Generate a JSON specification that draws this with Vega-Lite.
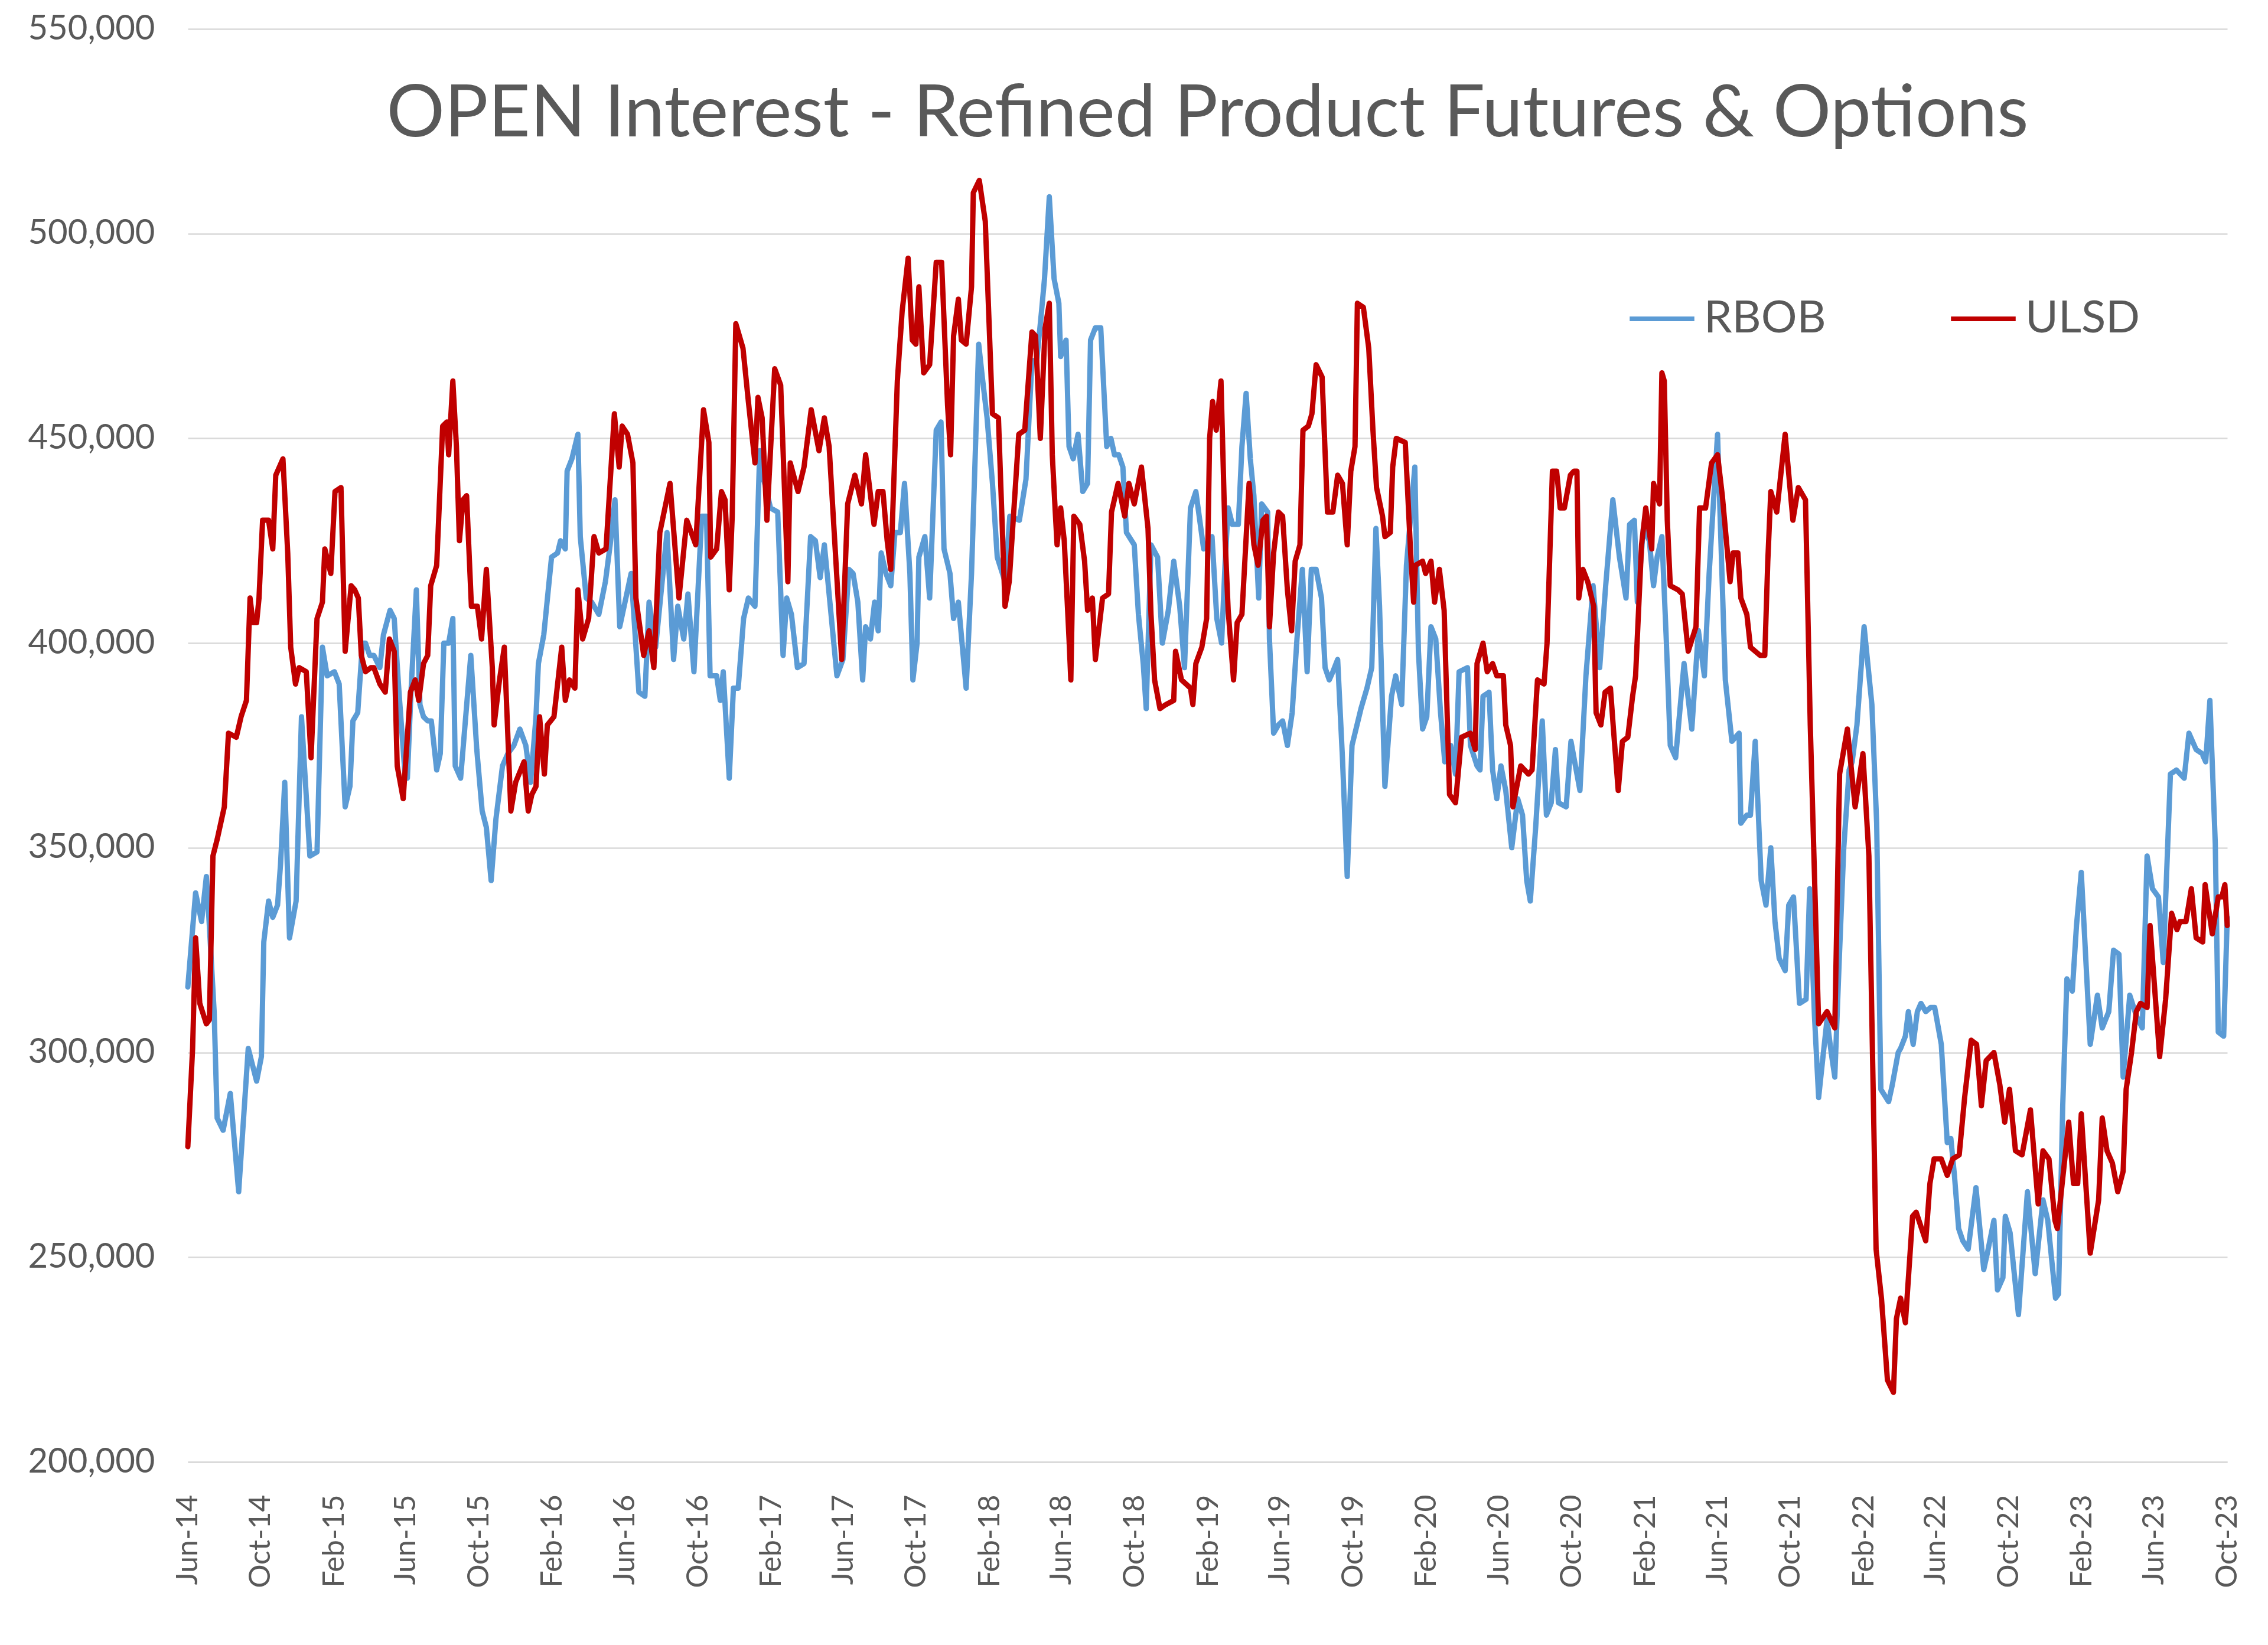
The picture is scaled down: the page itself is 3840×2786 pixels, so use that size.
{
  "$schema": "https://vega.github.io/schema/vega-lite/v6.json",
  "autosize": "none",
  "padding": {"left": 318, "top": 49, "right": 69, "bottom": 310},
  "width": 3453,
  "height": 2427,
  "background": "white",
  "config": {"view": {"stroke": null}, "font": "Lato"},
  "title": {"text": "OPEN Interest - Refined Product Futures & Options", "font": "Lato", "fontSize": 123, "fontWeight": "normal", "color": "#595959", "anchor": "middle", "frame": "group", "baseline": "alphabetic", "offset": -334},
  "datasets": {
    "rbob": [
{"d":"2014-06-01","v":316000},{"d":"2014-06-14","v":339000},{"d":"2014-06-24","v":332000},{"d":"2014-07-02","v":343000},{"d":"2014-07-07","v":331000},{"d":"2014-07-15","v":310000},{"d":"2014-07-20","v":284000},{"d":"2014-07-30","v":281000},{"d":"2014-08-11","v":290000},{"d":"2014-08-25","v":266000},{"d":"2014-09-10","v":301000},{"d":"2014-09-24","v":293000},{"d":"2014-10-02","v":299000},{"d":"2014-10-06","v":327000},{"d":"2014-10-14","v":337000},{"d":"2014-10-21","v":333000},{"d":"2014-10-29","v":336000},{"d":"2014-11-03","v":346000},{"d":"2014-11-10","v":366000},{"d":"2014-11-18","v":328000},{"d":"2014-11-29","v":337000},{"d":"2014-12-08","v":382000},{"d":"2014-12-22","v":348000},{"d":"2015-01-03","v":349000},{"d":"2015-01-12","v":399000},{"d":"2015-01-20","v":392000},{"d":"2015-02-01","v":393000},{"d":"2015-02-09","v":390000},{"d":"2015-02-19","v":360000},{"d":"2015-02-27","v":365000},{"d":"2015-03-04","v":381000},{"d":"2015-03-12","v":383000},{"d":"2015-03-20","v":400000},{"d":"2015-03-25","v":400000},{"d":"2015-04-01","v":397000},{"d":"2015-04-08","v":397000},{"d":"2015-04-18","v":394000},{"d":"2015-04-24","v":402000},{"d":"2015-05-05","v":408000},{"d":"2015-05-12","v":406000},{"d":"2015-05-20","v":388000},{"d":"2015-05-30","v":368000},{"d":"2015-06-03","v":367000},{"d":"2015-06-09","v":388000},{"d":"2015-06-18","v":413000},{"d":"2015-06-24","v":385000},{"d":"2015-06-30","v":382000},{"d":"2015-07-07","v":381000},{"d":"2015-07-13","v":381000},{"d":"2015-07-22","v":369000},{"d":"2015-07-28","v":373000},{"d":"2015-08-03","v":400000},{"d":"2015-08-11","v":400000},{"d":"2015-08-18","v":406000},{"d":"2015-08-22","v":370000},{"d":"2015-08-31","v":367000},{"d":"2015-09-17","v":397000},{"d":"2015-09-27","v":374000},{"d":"2015-10-06","v":359000},{"d":"2015-10-13","v":355000},{"d":"2015-10-21","v":342000},{"d":"2015-10-29","v":357000},{"d":"2015-11-09","v":370000},{"d":"2015-11-18","v":373000},{"d":"2015-11-28","v":375000},{"d":"2015-12-08","v":379000},{"d":"2015-12-18","v":375000},{"d":"2015-12-26","v":366000},{"d":"2016-01-04","v":382000},{"d":"2016-01-08","v":395000},{"d":"2016-01-17","v":402000},{"d":"2016-01-30","v":421000},{"d":"2016-02-09","v":422000},{"d":"2016-02-14","v":425000},{"d":"2016-02-22","v":423000},{"d":"2016-02-25","v":442000},{"d":"2016-03-04","v":445000},{"d":"2016-03-14","v":451000},{"d":"2016-03-18","v":426000},{"d":"2016-03-28","v":411000},{"d":"2016-04-06","v":410000},{"d":"2016-04-18","v":407000},{"d":"2016-04-29","v":415000},{"d":"2016-05-07","v":424000},{"d":"2016-05-15","v":435000},{"d":"2016-05-23","v":404000},{"d":"2016-06-11","v":417000},{"d":"2016-06-24","v":388000},{"d":"2016-07-04","v":387000},{"d":"2016-07-11","v":410000},{"d":"2016-07-22","v":399000},{"d":"2016-08-10","v":427000},{"d":"2016-08-21","v":396000},{"d":"2016-08-28","v":409000},{"d":"2016-09-07","v":401000},{"d":"2016-09-14","v":412000},{"d":"2016-09-24","v":393000},{"d":"2016-10-07","v":431000},{"d":"2016-10-15","v":431000},{"d":"2016-10-21","v":392000},{"d":"2016-11-01","v":392000},{"d":"2016-11-07","v":386000},{"d":"2016-11-12","v":393000},{"d":"2016-11-22","v":367000},{"d":"2016-11-29","v":389000},{"d":"2016-12-07","v":389000},{"d":"2016-12-16","v":406000},{"d":"2016-12-24","v":411000},{"d":"2017-01-04","v":409000},{"d":"2017-01-12","v":447000},{"d":"2017-01-17","v":441000},{"d":"2017-01-30","v":433000},{"d":"2017-02-11","v":432000},{"d":"2017-02-20","v":397000},{"d":"2017-02-26","v":411000},{"d":"2017-03-06","v":407000},{"d":"2017-03-16","v":394000},{"d":"2017-03-27","v":395000},{"d":"2017-04-07","v":426000},{"d":"2017-04-15","v":425000},{"d":"2017-04-23","v":416000},{"d":"2017-04-30","v":424000},{"d":"2017-05-06","v":415000},{"d":"2017-05-21","v":392000},{"d":"2017-05-31","v":396000},{"d":"2017-06-10","v":418000},{"d":"2017-06-17","v":417000},{"d":"2017-06-25","v":410000},{"d":"2017-07-03","v":391000},{"d":"2017-07-08","v":404000},{"d":"2017-07-16","v":401000},{"d":"2017-07-23","v":410000},{"d":"2017-07-29","v":403000},{"d":"2017-08-03","v":422000},{"d":"2017-08-11","v":417000},{"d":"2017-08-19","v":414000},{"d":"2017-08-26","v":427000},{"d":"2017-09-04","v":427000},{"d":"2017-09-11","v":439000},{"d":"2017-09-20","v":417000},{"d":"2017-09-25","v":391000},{"d":"2017-10-02","v":400000},{"d":"2017-10-05","v":421000},{"d":"2017-10-15","v":426000},{"d":"2017-10-23","v":411000},{"d":"2017-11-03","v":452000},{"d":"2017-11-11","v":454000},{"d":"2017-11-16","v":423000},{"d":"2017-11-26","v":417000},{"d":"2017-12-02","v":406000},{"d":"2017-12-10","v":410000},{"d":"2017-12-23","v":389000},{"d":"2018-01-01","v":417000},{"d":"2018-01-13","v":473000},{"d":"2018-01-19","v":465000},{"d":"2018-01-27","v":455000},{"d":"2018-02-05","v":439000},{"d":"2018-02-13","v":421000},{"d":"2018-02-26","v":415000},{"d":"2018-03-06","v":431000},{"d":"2018-03-22","v":430000},{"d":"2018-04-02","v":440000},{"d":"2018-04-12","v":469000},{"d":"2018-04-20","v":469000},{"d":"2018-04-28","v":481000},{"d":"2018-05-03","v":489000},{"d":"2018-05-11","v":509000},{"d":"2018-05-19","v":489000},{"d":"2018-05-27","v":483000},{"d":"2018-05-30","v":470000},{"d":"2018-06-08","v":474000},{"d":"2018-06-13","v":448000},{"d":"2018-06-20","v":445000},{"d":"2018-06-28","v":451000},{"d":"2018-07-06","v":437000},{"d":"2018-07-14","v":439000},{"d":"2018-07-19","v":474000},{"d":"2018-07-27","v":477000},{"d":"2018-08-05","v":477000},{"d":"2018-08-15","v":448000},{"d":"2018-08-22","v":450000},{"d":"2018-08-28","v":446000},{"d":"2018-09-04","v":446000},{"d":"2018-09-11","v":443000},{"d":"2018-09-17","v":427000},{"d":"2018-09-30","v":424000},{"d":"2018-10-07","v":407000},{"d":"2018-10-15","v":395000},{"d":"2018-10-20","v":384000},{"d":"2018-10-28","v":424000},{"d":"2018-11-08","v":421000},{"d":"2018-11-16","v":400000},{"d":"2018-11-26","v":408000},{"d":"2018-12-05","v":420000},{"d":"2018-12-15","v":409000},{"d":"2018-12-23","v":394000},{"d":"2019-01-02","v":433000},{"d":"2019-01-11","v":437000},{"d":"2019-01-24","v":423000},{"d":"2019-02-07","v":426000},{"d":"2019-02-15","v":406000},{"d":"2019-02-23","v":400000},{"d":"2019-03-01","v":420000},{"d":"2019-03-06","v":433000},{"d":"2019-03-13","v":429000},{"d":"2019-03-23","v":429000},{"d":"2019-03-29","v":448000},{"d":"2019-04-05","v":461000},{"d":"2019-04-12","v":445000},{"d":"2019-04-18","v":436000},{"d":"2019-04-26","v":411000},{"d":"2019-05-01","v":434000},{"d":"2019-05-11","v":432000},{"d":"2019-05-14","v":401000},{"d":"2019-05-21","v":378000},{"d":"2019-05-29","v":380000},{"d":"2019-06-05","v":381000},{"d":"2019-06-13","v":375000},{"d":"2019-06-21","v":383000},{"d":"2019-06-29","v":401000},{"d":"2019-07-08","v":418000},{"d":"2019-07-16","v":393000},{"d":"2019-07-23","v":418000},{"d":"2019-07-31","v":418000},{"d":"2019-08-09","v":411000},{"d":"2019-08-15","v":394000},{"d":"2019-08-22","v":391000},{"d":"2019-08-28","v":393000},{"d":"2019-09-05","v":396000},{"d":"2019-09-13","v":372000},{"d":"2019-09-21","v":343000},{"d":"2019-09-29","v":375000},{"d":"2019-10-14","v":384000},{"d":"2019-10-24","v":389000},{"d":"2019-11-01","v":394000},{"d":"2019-11-08","v":428000},{"d":"2019-11-14","v":409000},{"d":"2019-11-23","v":365000},{"d":"2019-12-04","v":387000},{"d":"2019-12-11","v":392000},{"d":"2019-12-21","v":385000},{"d":"2019-12-29","v":419000},{"d":"2020-01-12","v":443000},{"d":"2020-01-18","v":398000},{"d":"2020-01-25","v":379000},{"d":"2020-02-01","v":382000},{"d":"2020-02-08","v":404000},{"d":"2020-02-16","v":401000},{"d":"2020-02-24","v":383000},{"d":"2020-03-02","v":371000},{"d":"2020-03-12","v":375000},{"d":"2020-03-20","v":368000},{"d":"2020-03-26","v":393000},{"d":"2020-04-09","v":394000},{"d":"2020-04-14","v":375000},{"d":"2020-04-25","v":370000},{"d":"2020-04-30","v":369000},{"d":"2020-05-05","v":387000},{"d":"2020-05-15","v":388000},{"d":"2020-05-21","v":369000},{"d":"2020-05-28","v":362000},{"d":"2020-06-04","v":370000},{"d":"2020-06-12","v":364000},{"d":"2020-06-22","v":350000},{"d":"2020-07-02","v":362000},{"d":"2020-07-10","v":358000},{"d":"2020-07-17","v":342000},{"d":"2020-07-23","v":337000},{"d":"2020-08-01","v":355000},{"d":"2020-08-12","v":381000},{"d":"2020-08-19","v":358000},{"d":"2020-08-27","v":361000},{"d":"2020-09-03","v":374000},{"d":"2020-09-08","v":361000},{"d":"2020-09-21","v":360000},{"d":"2020-09-29","v":376000},{"d":"2020-10-14","v":364000},{"d":"2020-10-24","v":392000},{"d":"2020-11-05","v":414000},{"d":"2020-11-16","v":394000},{"d":"2020-11-26","v":414000},{"d":"2020-12-08","v":435000},{"d":"2020-12-19","v":421000},{"d":"2020-12-30","v":411000},{"d":"2021-01-05","v":429000},{"d":"2021-01-13","v":430000},{"d":"2021-01-18","v":410000},{"d":"2021-01-28","v":428000},{"d":"2021-02-07","v":425000},{"d":"2021-02-14","v":414000},{"d":"2021-02-20","v":421000},{"d":"2021-02-28","v":426000},{"d":"2021-03-07","v":402000},{"d":"2021-03-14","v":375000},{"d":"2021-03-23","v":372000},{"d":"2021-04-06","v":395000},{"d":"2021-04-19","v":379000},{"d":"2021-04-30","v":403000},{"d":"2021-05-10","v":392000},{"d":"2021-05-18","v":417000},{"d":"2021-06-01","v":451000},{"d":"2021-06-14","v":391000},{"d":"2021-06-25","v":376000},{"d":"2021-07-07","v":378000},{"d":"2021-07-10","v":356000},{"d":"2021-07-20","v":358000},{"d":"2021-07-26","v":358000},{"d":"2021-08-03","v":376000},{"d":"2021-08-13","v":342000},{"d":"2021-08-21","v":336000},{"d":"2021-08-29","v":350000},{"d":"2021-09-05","v":332000},{"d":"2021-09-12","v":323000},{"d":"2021-09-22","v":320000},{"d":"2021-09-28","v":336000},{"d":"2021-10-06","v":338000},{"d":"2021-10-16","v":312000},{"d":"2021-10-27","v":313000},{"d":"2021-11-02","v":340000},{"d":"2021-11-10","v":309000},{"d":"2021-11-17","v":289000},{"d":"2021-11-25","v":300000},{"d":"2021-12-01","v":308000},{"d":"2021-12-08","v":300000},{"d":"2021-12-14","v":294000},{"d":"2021-12-21","v":321000},{"d":"2021-12-29","v":350000},{"d":"2022-01-07","v":369000},{"d":"2022-01-12","v":371000},{"d":"2022-01-20","v":380000},{"d":"2022-02-01","v":404000},{"d":"2022-02-14","v":385000},{"d":"2022-02-22","v":356000},{"d":"2022-03-01","v":291000},{"d":"2022-03-14","v":288000},{"d":"2022-03-20","v":292000},{"d":"2022-03-30","v":300000},{"d":"2022-04-03","v":301000},{"d":"2022-04-11","v":304000},{"d":"2022-04-16","v":310000},{"d":"2022-04-24","v":302000},{"d":"2022-05-01","v":310000},{"d":"2022-05-07","v":312000},{"d":"2022-05-15","v":310000},{"d":"2022-05-23","v":311000},{"d":"2022-05-30","v":311000},{"d":"2022-06-10","v":302000},{"d":"2022-06-20","v":278000},{"d":"2022-06-26","v":279000},{"d":"2022-07-02","v":270000},{"d":"2022-07-09","v":257000},{"d":"2022-07-16","v":254000},{"d":"2022-07-25","v":252000},{"d":"2022-08-07","v":267000},{"d":"2022-08-20","v":247000},{"d":"2022-08-26","v":251000},{"d":"2022-09-06","v":259000},{"d":"2022-09-12","v":242000},{"d":"2022-09-21","v":245000},{"d":"2022-09-25","v":260000},{"d":"2022-10-03","v":256000},{"d":"2022-10-17","v":236000},{"d":"2022-11-01","v":266000},{"d":"2022-11-14","v":246000},{"d":"2022-11-27","v":264000},{"d":"2022-12-05","v":259000},{"d":"2022-12-18","v":240000},{"d":"2022-12-23","v":241000},{"d":"2022-12-30","v":287000},{"d":"2023-01-06","v":318000},{"d":"2023-01-15","v":315000},{"d":"2023-01-22","v":331000},{"d":"2023-01-30","v":344000},{"d":"2023-02-14","v":302000},{"d":"2023-02-26","v":314000},{"d":"2023-03-06","v":306000},{"d":"2023-03-17","v":310000},{"d":"2023-03-25","v":325000},{"d":"2023-04-03","v":324000},{"d":"2023-04-10","v":294000},{"d":"2023-04-21","v":314000},{"d":"2023-05-02","v":309000},{"d":"2023-05-12","v":306000},{"d":"2023-05-20","v":348000},{"d":"2023-05-29","v":340000},{"d":"2023-06-08","v":338000},{"d":"2023-06-16","v":322000},{"d":"2023-06-28","v":368000},{"d":"2023-07-08","v":369000},{"d":"2023-07-21","v":367000},{"d":"2023-07-29","v":378000},{"d":"2023-08-10","v":374000},{"d":"2023-08-20","v":373000},{"d":"2023-08-26","v":371000},{"d":"2023-09-02","v":386000},{"d":"2023-09-11","v":351000},{"d":"2023-09-16","v":305000},{"d":"2023-09-25","v":304000},{"d":"2023-10-01","v":333000}
    ],
    "ulsd": [
{"d":"2014-06-01","v":277000},{"d":"2014-06-09","v":301000},{"d":"2014-06-14","v":328000},{"d":"2014-06-21","v":312000},{"d":"2014-07-02","v":307000},{"d":"2014-07-07","v":308000},{"d":"2014-07-13","v":348000},{"d":"2014-07-20","v":352000},{"d":"2014-08-01","v":360000},{"d":"2014-08-08","v":378000},{"d":"2014-08-21","v":377000},{"d":"2014-08-29","v":382000},{"d":"2014-09-07","v":386000},{"d":"2014-09-13","v":411000},{"d":"2014-09-18","v":405000},{"d":"2014-09-24","v":405000},{"d":"2014-09-28","v":411000},{"d":"2014-10-04","v":430000},{"d":"2014-10-14","v":430000},{"d":"2014-10-21","v":423000},{"d":"2014-10-26","v":441000},{"d":"2014-11-07","v":445000},{"d":"2014-11-15","v":422000},{"d":"2014-11-20","v":399000},{"d":"2014-11-28","v":390000},{"d":"2014-12-04","v":394000},{"d":"2014-12-16","v":393000},{"d":"2014-12-24","v":372000},{"d":"2015-01-03","v":406000},{"d":"2015-01-12","v":410000},{"d":"2015-01-16","v":423000},{"d":"2015-01-26","v":417000},{"d":"2015-02-02","v":437000},{"d":"2015-02-12","v":438000},{"d":"2015-02-19","v":398000},{"d":"2015-03-01","v":414000},{"d":"2015-03-07","v":413000},{"d":"2015-03-13","v":411000},{"d":"2015-03-18","v":397000},{"d":"2015-03-25","v":393000},{"d":"2015-04-03","v":394000},{"d":"2015-04-08","v":394000},{"d":"2015-04-18","v":390000},{"d":"2015-04-27","v":388000},{"d":"2015-05-04","v":401000},{"d":"2015-05-12","v":398000},{"d":"2015-05-17","v":370000},{"d":"2015-05-27","v":362000},{"d":"2015-06-08","v":388000},{"d":"2015-06-16","v":391000},{"d":"2015-06-22","v":386000},{"d":"2015-06-30","v":395000},{"d":"2015-07-07","v":397000},{"d":"2015-07-12","v":414000},{"d":"2015-07-22","v":419000},{"d":"2015-08-01","v":453000},{"d":"2015-08-08","v":454000},{"d":"2015-08-11","v":446000},{"d":"2015-08-18","v":464000},{"d":"2015-08-24","v":448000},{"d":"2015-08-29","v":425000},{"d":"2015-09-04","v":435000},{"d":"2015-09-10","v":436000},{"d":"2015-09-18","v":409000},{"d":"2015-09-28","v":409000},{"d":"2015-10-05","v":401000},{"d":"2015-10-13","v":418000},{"d":"2015-10-23","v":394000},{"d":"2015-10-26","v":380000},{"d":"2015-11-04","v":391000},{"d":"2015-11-12","v":399000},{"d":"2015-11-23","v":359000},{"d":"2015-12-01","v":366000},{"d":"2015-12-15","v":371000},{"d":"2015-12-22","v":359000},{"d":"2015-12-28","v":363000},{"d":"2016-01-04","v":365000},{"d":"2016-01-10","v":382000},{"d":"2016-01-18","v":368000},{"d":"2016-01-23","v":380000},{"d":"2016-02-03","v":382000},{"d":"2016-02-16","v":399000},{"d":"2016-02-22","v":386000},{"d":"2016-02-29","v":391000},{"d":"2016-03-09","v":389000},{"d":"2016-03-14","v":413000},{"d":"2016-03-22","v":401000},{"d":"2016-04-01","v":406000},{"d":"2016-04-10","v":426000},{"d":"2016-04-18","v":422000},{"d":"2016-04-30","v":423000},{"d":"2016-05-14","v":456000},{"d":"2016-05-22","v":443000},{"d":"2016-05-27","v":453000},{"d":"2016-06-05","v":451000},{"d":"2016-06-14","v":444000},{"d":"2016-06-19","v":411000},{"d":"2016-07-02","v":397000},{"d":"2016-07-11","v":403000},{"d":"2016-07-19","v":394000},{"d":"2016-07-29","v":427000},{"d":"2016-08-15","v":439000},{"d":"2016-08-30","v":411000},{"d":"2016-09-12","v":430000},{"d":"2016-09-27","v":424000},{"d":"2016-10-10","v":457000},{"d":"2016-10-19","v":449000},{"d":"2016-10-22","v":421000},{"d":"2016-11-01","v":423000},{"d":"2016-11-09","v":437000},{"d":"2016-11-15","v":435000},{"d":"2016-11-22","v":413000},{"d":"2016-11-27","v":431000},{"d":"2016-12-03","v":478000},{"d":"2016-12-15","v":472000},{"d":"2016-12-24","v":459000},{"d":"2017-01-04","v":444000},{"d":"2017-01-09","v":460000},{"d":"2017-01-16","v":455000},{"d":"2017-01-24","v":430000},{"d":"2017-02-06","v":467000},{"d":"2017-02-16","v":463000},{"d":"2017-02-28","v":415000},{"d":"2017-03-04","v":444000},{"d":"2017-03-17","v":437000},{"d":"2017-03-27","v":443000},{"d":"2017-04-08","v":457000},{"d":"2017-04-21","v":447000},{"d":"2017-04-30","v":455000},{"d":"2017-05-08","v":448000},{"d":"2017-05-29","v":396000},{"d":"2017-06-08","v":434000},{"d":"2017-06-20","v":441000},{"d":"2017-07-01","v":434000},{"d":"2017-07-08","v":446000},{"d":"2017-07-22","v":429000},{"d":"2017-07-29","v":437000},{"d":"2017-08-06","v":437000},{"d":"2017-08-13","v":425000},{"d":"2017-08-19","v":418000},{"d":"2017-08-30","v":464000},{"d":"2017-09-07","v":481000},{"d":"2017-09-17","v":494000},{"d":"2017-09-24","v":474000},{"d":"2017-09-30","v":473000},{"d":"2017-10-05","v":487000},{"d":"2017-10-13","v":466000},{"d":"2017-10-23","v":468000},{"d":"2017-11-03","v":493000},{"d":"2017-11-12","v":493000},{"d":"2017-11-22","v":458000},{"d":"2017-11-27","v":446000},{"d":"2017-12-02","v":475000},{"d":"2017-12-10","v":484000},{"d":"2017-12-15","v":474000},{"d":"2017-12-23","v":473000},{"d":"2018-01-01","v":487000},{"d":"2018-01-04","v":510000},{"d":"2018-01-14","v":513000},{"d":"2018-01-24","v":503000},{"d":"2018-02-05","v":456000},{"d":"2018-02-15","v":455000},{"d":"2018-02-26","v":409000},{"d":"2018-03-05","v":415000},{"d":"2018-03-21","v":451000},{"d":"2018-03-31","v":452000},{"d":"2018-04-12","v":476000},{"d":"2018-04-18","v":475000},{"d":"2018-04-26","v":450000},{"d":"2018-05-04","v":477000},{"d":"2018-05-11","v":483000},{"d":"2018-05-16","v":446000},{"d":"2018-05-21","v":432000},{"d":"2018-05-24","v":424000},{"d":"2018-05-30","v":433000},{"d":"2018-06-05","v":425000},{"d":"2018-06-13","v":401000},{"d":"2018-06-16","v":391000},{"d":"2018-06-21","v":431000},{"d":"2018-07-01","v":429000},{"d":"2018-07-09","v":420000},{"d":"2018-07-14","v":408000},{"d":"2018-07-22","v":411000},{"d":"2018-07-27","v":396000},{"d":"2018-08-08","v":411000},{"d":"2018-08-18","v":412000},{"d":"2018-08-23","v":432000},{"d":"2018-09-03","v":439000},{"d":"2018-09-14","v":431000},{"d":"2018-09-21","v":439000},{"d":"2018-09-30","v":434000},{"d":"2018-10-12","v":443000},{"d":"2018-10-23","v":428000},{"d":"2018-10-28","v":407000},{"d":"2018-11-03","v":391000},{"d":"2018-11-12","v":384000},{"d":"2018-11-22","v":385000},{"d":"2018-12-05","v":386000},{"d":"2018-12-08","v":398000},{"d":"2018-12-18","v":391000},{"d":"2019-01-02","v":389000},{"d":"2019-01-06","v":385000},{"d":"2019-01-11","v":395000},{"d":"2019-01-21","v":399000},{"d":"2019-01-29","v":406000},{"d":"2019-02-03","v":450000},{"d":"2019-02-08","v":459000},{"d":"2019-02-14","v":452000},{"d":"2019-02-22","v":464000},{"d":"2019-03-01","v":425000},{"d":"2019-03-06","v":408000},{"d":"2019-03-15","v":391000},{"d":"2019-03-21","v":405000},{"d":"2019-03-29","v":407000},{"d":"2019-04-10","v":439000},{"d":"2019-04-18","v":424000},{"d":"2019-04-25","v":419000},{"d":"2019-05-03","v":430000},{"d":"2019-05-09","v":431000},{"d":"2019-05-14","v":404000},{"d":"2019-05-21","v":422000},{"d":"2019-05-29","v":432000},{"d":"2019-06-05","v":431000},{"d":"2019-06-13","v":413000},{"d":"2019-06-20","v":403000},{"d":"2019-06-26","v":420000},{"d":"2019-07-04","v":424000},{"d":"2019-07-09","v":452000},{"d":"2019-07-18","v":453000},{"d":"2019-07-24","v":456000},{"d":"2019-07-31","v":468000},{"d":"2019-08-10","v":465000},{"d":"2019-08-19","v":432000},{"d":"2019-08-28","v":432000},{"d":"2019-09-05","v":441000},{"d":"2019-09-13","v":439000},{"d":"2019-09-21","v":424000},{"d":"2019-09-27","v":442000},{"d":"2019-10-04","v":448000},{"d":"2019-10-08","v":483000},{"d":"2019-10-18","v":482000},{"d":"2019-10-27","v":472000},{"d":"2019-11-03","v":452000},{"d":"2019-11-09","v":438000},{"d":"2019-11-19","v":431000},{"d":"2019-11-23","v":426000},{"d":"2019-12-02","v":427000},{"d":"2019-12-06","v":443000},{"d":"2019-12-12","v":450000},{"d":"2019-12-27","v":449000},{"d":"2020-01-05","v":422000},{"d":"2020-01-10","v":410000},{"d":"2020-01-13","v":419000},{"d":"2020-01-25","v":420000},{"d":"2020-01-30","v":417000},{"d":"2020-02-08","v":420000},{"d":"2020-02-14","v":410000},{"d":"2020-02-22","v":418000},{"d":"2020-03-01","v":408000},{"d":"2020-03-10","v":363000},{"d":"2020-03-20","v":361000},{"d":"2020-03-30","v":377000},{"d":"2020-04-14","v":378000},{"d":"2020-04-22","v":374000},{"d":"2020-04-25","v":395000},{"d":"2020-05-05","v":400000},{"d":"2020-05-12","v":393000},{"d":"2020-05-21","v":395000},{"d":"2020-05-28","v":392000},{"d":"2020-06-08","v":392000},{"d":"2020-06-12","v":380000},{"d":"2020-06-20","v":375000},{"d":"2020-06-24","v":360000},{"d":"2020-07-07","v":370000},{"d":"2020-07-20","v":368000},{"d":"2020-07-26","v":369000},{"d":"2020-08-04","v":391000},{"d":"2020-08-15","v":390000},{"d":"2020-08-20","v":400000},{"d":"2020-08-29","v":442000},{"d":"2020-09-05","v":442000},{"d":"2020-09-11","v":433000},{"d":"2020-09-18","v":433000},{"d":"2020-09-28","v":441000},{"d":"2020-10-04","v":442000},{"d":"2020-10-09","v":442000},{"d":"2020-10-12","v":411000},{"d":"2020-10-19","v":418000},{"d":"2020-10-27","v":415000},{"d":"2020-11-06","v":409000},{"d":"2020-11-10","v":383000},{"d":"2020-11-18","v":380000},{"d":"2020-11-25","v":388000},{"d":"2020-12-04","v":389000},{"d":"2020-12-09","v":379000},{"d":"2020-12-17","v":364000},{"d":"2020-12-24","v":376000},{"d":"2021-01-02","v":377000},{"d":"2021-01-10","v":387000},{"d":"2021-01-15","v":392000},{"d":"2021-01-25","v":424000},{"d":"2021-02-01","v":433000},{"d":"2021-02-11","v":423000},{"d":"2021-02-14","v":439000},{"d":"2021-02-24","v":434000},{"d":"2021-02-28","v":466000},{"d":"2021-03-04","v":464000},{"d":"2021-03-09","v":430000},{"d":"2021-03-14","v":414000},{"d":"2021-03-27","v":413000},{"d":"2021-04-03","v":412000},{"d":"2021-04-13","v":398000},{"d":"2021-04-26","v":404000},{"d":"2021-05-02","v":433000},{"d":"2021-05-12","v":433000},{"d":"2021-05-22","v":444000},{"d":"2021-06-01","v":446000},{"d":"2021-06-09","v":436000},{"d":"2021-06-22","v":415000},{"d":"2021-06-27","v":422000},{"d":"2021-07-05","v":422000},{"d":"2021-07-10","v":411000},{"d":"2021-07-20","v":407000},{"d":"2021-07-26","v":399000},{"d":"2021-08-11","v":397000},{"d":"2021-08-19","v":397000},{"d":"2021-08-24","v":420000},{"d":"2021-08-29","v":437000},{"d":"2021-09-08","v":432000},{"d":"2021-09-22","v":451000},{"d":"2021-10-05","v":430000},{"d":"2021-10-14","v":438000},{"d":"2021-10-26","v":435000},{"d":"2021-11-03","v":380000},{"d":"2021-11-17","v":307000},{"d":"2021-12-01","v":310000},{"d":"2021-12-14","v":306000},{"d":"2021-12-22","v":368000},{"d":"2022-01-04","v":379000},{"d":"2022-01-17","v":360000},{"d":"2022-01-30","v":373000},{"d":"2022-02-09","v":348000},{"d":"2022-02-21","v":252000},{"d":"2022-03-02","v":240000},{"d":"2022-03-12","v":220000},{"d":"2022-03-22","v":217000},{"d":"2022-03-27","v":235000},{"d":"2022-04-03","v":240000},{"d":"2022-04-11","v":234000},{"d":"2022-04-23","v":260000},{"d":"2022-04-29","v":261000},{"d":"2022-05-15","v":254000},{"d":"2022-05-22","v":268000},{"d":"2022-05-29","v":274000},{"d":"2022-06-10","v":274000},{"d":"2022-06-20","v":270000},{"d":"2022-06-29","v":274000},{"d":"2022-07-10","v":275000},{"d":"2022-07-19","v":289000},{"d":"2022-07-30","v":303000},{"d":"2022-08-08","v":302000},{"d":"2022-08-16","v":287000},{"d":"2022-08-24","v":298000},{"d":"2022-09-06","v":300000},{"d":"2022-09-16","v":292000},{"d":"2022-09-24","v":283000},{"d":"2022-10-02","v":291000},{"d":"2022-10-12","v":276000},{"d":"2022-10-23","v":275000},{"d":"2022-11-06","v":286000},{"d":"2022-11-19","v":263000},{"d":"2022-11-27","v":276000},{"d":"2022-12-07","v":274000},{"d":"2022-12-17","v":259000},{"d":"2022-12-21","v":257000},{"d":"2023-01-01","v":272000},{"d":"2023-01-09","v":283000},{"d":"2023-01-17","v":268000},{"d":"2023-01-24","v":268000},{"d":"2023-01-30","v":285000},{"d":"2023-02-14","v":251000},{"d":"2023-02-28","v":264000},{"d":"2023-03-06","v":284000},{"d":"2023-03-14","v":276000},{"d":"2023-03-23","v":273000},{"d":"2023-04-01","v":266000},{"d":"2023-04-10","v":271000},{"d":"2023-04-15","v":291000},{"d":"2023-04-24","v":300000},{"d":"2023-05-02","v":310000},{"d":"2023-05-09","v":312000},{"d":"2023-05-20","v":311000},{"d":"2023-05-25","v":331000},{"d":"2023-06-10","v":299000},{"d":"2023-06-20","v":313000},{"d":"2023-06-30","v":334000},{"d":"2023-07-09","v":330000},{"d":"2023-07-14","v":332000},{"d":"2023-07-24","v":332000},{"d":"2023-08-02","v":340000},{"d":"2023-08-10","v":328000},{"d":"2023-08-21","v":327000},{"d":"2023-08-25","v":341000},{"d":"2023-09-06","v":329000},{"d":"2023-09-16","v":338000},{"d":"2023-09-22","v":338000},{"d":"2023-09-27","v":341000},{"d":"2023-10-01","v":331000}
    ]
  },
  "encoding": {
    "x": {"field": "d", "type": "temporal",
      "scale": {"type": "utc", "domain": [{"year": 2014, "month": 6, "date": 1, "utc": true}, {"year": 2023, "month": 10, "date": 1, "utc": true}]},
      "axis": {"title": null, "format": "%b-%y", "labelAngle": -90, "labelFontSize": 50, "labelColor": "#595959", "labelPadding": 55, "ticks": false, "grid": false, "domainColor": "#D9D9D9", "domainWidth": 2.5, "labelOverlap": false, "labelBound": false, "labelFlush": false, "labelLimit": 400,
        "values": [
          {"year": 2014, "month": 6, "date": 1, "utc": true}, {"year": 2014, "month": 10, "date": 1, "utc": true},
          {"year": 2015, "month": 2, "date": 1, "utc": true}, {"year": 2015, "month": 6, "date": 1, "utc": true}, {"year": 2015, "month": 10, "date": 1, "utc": true},
          {"year": 2016, "month": 2, "date": 1, "utc": true}, {"year": 2016, "month": 6, "date": 1, "utc": true}, {"year": 2016, "month": 10, "date": 1, "utc": true},
          {"year": 2017, "month": 2, "date": 1, "utc": true}, {"year": 2017, "month": 6, "date": 1, "utc": true}, {"year": 2017, "month": 10, "date": 1, "utc": true},
          {"year": 2018, "month": 2, "date": 1, "utc": true}, {"year": 2018, "month": 6, "date": 1, "utc": true}, {"year": 2018, "month": 10, "date": 1, "utc": true},
          {"year": 2019, "month": 2, "date": 1, "utc": true}, {"year": 2019, "month": 6, "date": 1, "utc": true}, {"year": 2019, "month": 10, "date": 1, "utc": true},
          {"year": 2020, "month": 2, "date": 1, "utc": true}, {"year": 2020, "month": 6, "date": 1, "utc": true}, {"year": 2020, "month": 10, "date": 1, "utc": true},
          {"year": 2021, "month": 2, "date": 1, "utc": true}, {"year": 2021, "month": 6, "date": 1, "utc": true}, {"year": 2021, "month": 10, "date": 1, "utc": true},
          {"year": 2022, "month": 2, "date": 1, "utc": true}, {"year": 2022, "month": 6, "date": 1, "utc": true}, {"year": 2022, "month": 10, "date": 1, "utc": true},
          {"year": 2023, "month": 2, "date": 1, "utc": true}, {"year": 2023, "month": 6, "date": 1, "utc": true}, {"year": 2023, "month": 10, "date": 1, "utc": true}
        ]}},
    "y": {"field": "v", "type": "quantitative",
      "scale": {"domain": [200000, 550000], "nice": false, "zero": false},
      "axis": {"title": null, "values": [200000, 250000, 300000, 350000, 400000, 450000, 500000, 550000], "format": ",.0f", "domain": false, "ticks": false, "grid": true, "gridColor": "#D9D9D9", "gridWidth": 2.5, "labelFontSize": 58, "labelColor": "#595959", "labelPadding": 56, "labelLimit": 500}}
  },
  "layer": [
    {
      "data": {"name": "rbob"},
      "mark": {"type": "line", "strokeWidth": 9, "strokeJoin": "round", "strokeCap": "round"},
      "encoding": {
        "color": {"datum": "RBOB", "type": "nominal",
          "scale": {"domain": ["RBOB", "ULSD"], "range": ["#5B9BD5", "#C00000"]},
          "legend": {"orient": "none", "legendX": 2437, "legendY": 432, "direction": "horizontal", "title": null, "symbolType": "stroke", "symbolStrokeWidth": 8, "symbolSize": 12000, "labelFontSize": 76, "labelColor": "#595959", "labelOffset": 12, "labelLimit": 600, "columnPadding": 195, "padding": 0}}
      }
    },
    {
      "data": {"name": "ulsd"},
      "mark": {"type": "line", "strokeWidth": 9, "strokeJoin": "round", "strokeCap": "round"},
      "encoding": {
        "color": {"datum": "ULSD", "type": "nominal"}
      }
    }
  ]
}
